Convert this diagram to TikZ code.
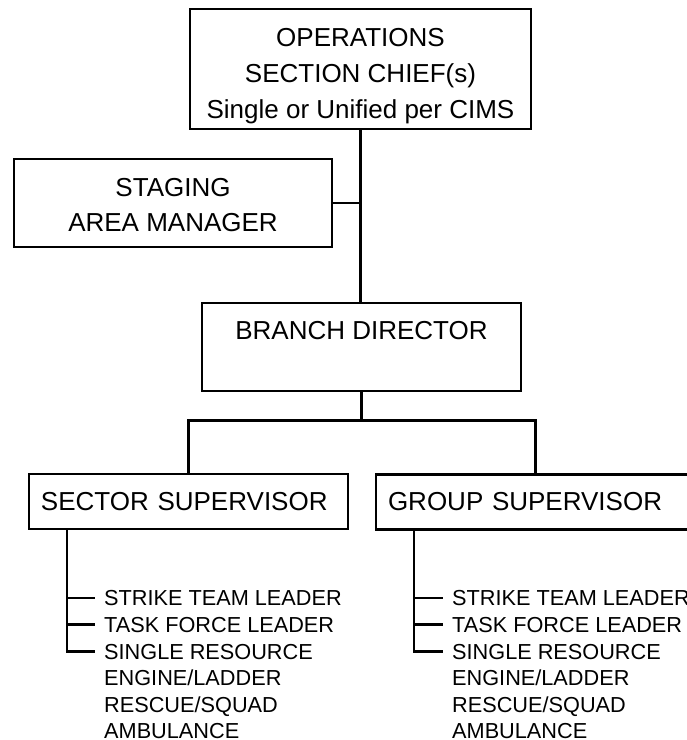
\documentclass[tikz,border=0pt]{standalone}
\usepackage{fontspec}
\setmainfont{Liberation Sans}
\usetikzlibrary{positioning}

\newcommand{\boxfont}{\fontsize{26}{35}\selectfont}
\newcommand{\itemfont}{\fontsize{21.7}{26.6}\selectfont}

\begin{document}
\begin{tikzpicture}[
    x=1pt, y=-1pt,
    box/.style={
        draw,
        line width=2.8pt,
        align=center,
        inner sep=0pt,
        font=\boxfont
    },
    supbox/.style={
        box,
        minimum height=55pt,
        text width=295pt,
        inner xsep=12pt,
        align=left
    },
    item/.style={
        anchor=west,
        inner sep=0pt,
        font=\itemfont,
        text height=15.6pt,
        text depth=0pt
    },
    link/.style={
        line width=2.8pt,
        line join=miter
    }
]

\useasboundingbox (0,0) rectangle (687,740);
\clip (0,0) rectangle (687,740);

\node[box, minimum width=341pt, minimum height=120pt] (ops) at (360.5,69)
    {\rule{0pt}{32pt}OPERATIONS\\[1pt]SECTION CHIEF(s)\\[1pt]Single or Unified per CIMS};

\node[box, minimum width=318pt, minimum height=88pt] (staging) at (173,203)
    {\rule{0pt}{22pt}STAGING\\AREA MANAGER};

\node[box, minimum width=319pt, minimum height=88pt,
      text height=18.8pt, text depth=34pt] (branch) at (361.5,347)
    {BRANCH DIRECTOR};

\coordinate[below=28pt of branch.south] (split);

\node[supbox] (sector) at (188.5,501.5) {SECTOR SUPERVISOR};
\node[supbox] (group) at (535.5,502) {GROUP SUPERVISOR};

\draw[link] (ops.south) -- (ops.south |- branch.north);
\draw[link] (staging.east) -- (staging.east -| ops.south);

\draw[link] (branch.south) -- (split);
\draw[link] (sector.north) |- (split) -| (group.north);

% resources under each supervisor
\foreach \txt [count=\i] in {STRIKE TEAM LEADER, TASK FORCE LEADER, SINGLE RESOURCE,
                             ENGINE/LADDER, RESCUE/SQUAD, AMBULANCE} {
    \node[item] (sec\i) at (104, {598+(\i-1)*26.6}) {\txt};
    \node[item] (grp\i) at (452, {598+(\i-1)*26.6}) {\txt};
}

\coordinate (secbar) at ([xshift=-37pt]sec1.west);
\coordinate (grpbar) at ([xshift=-38pt]grp1.west);

\draw[link] (secbar |- sector.south) -- (secbar |- sec3.west) -- ([xshift=-9pt]sec3.west);
\draw[link] (grpbar |- group.south) -- (grpbar |- grp3.west) -- ([xshift=-9pt]grp3.west);

\foreach \i in {1,2} {
    \draw[link] (secbar |- sec\i.west) -- ([xshift=-9pt]sec\i.west);
    \draw[link] (grpbar |- grp\i.west) -- ([xshift=-9pt]grp\i.west);
}

\end{tikzpicture}
\end{document}
